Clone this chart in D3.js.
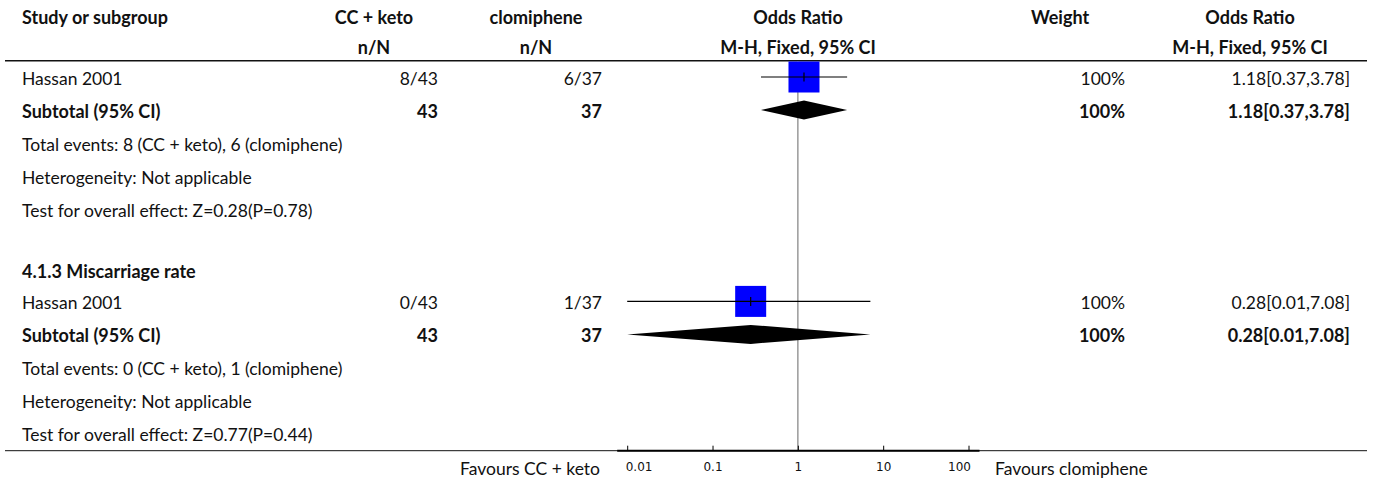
<!DOCTYPE html>
<html lang="en">
<head>
<meta charset="utf-8">
<title>Forest plot</title>
<script src="https://cdn.jsdelivr.net/npm/d3@7"></script>
<style>
  body { margin: 0; background: #fff; }
  svg text { font-family: Lato, "Noto Sans", sans-serif; font-size: 17.5px; fill: #111; }
  .b { font-weight: 700; font-size: 18px; }
  .axis text { font-family: "DejaVu Sans", sans-serif; font-size: 12px; }
</style>
</head>
<body>
<script>
// data
var studies = ["Hassan 2001", "Hassan 2001"];
var headings = [null, "4.1.3 Miscarriage rate"];
var ccKetoEvents = [8, 0];
var ccKetoTotal = [43, 43];
var clomEvents = [6, 1];
var clomTotal = [37, 37];
var oddsRatio = [1.18, 0.28];
var ciLow = [0.37, 0.01];
var ciHigh = [3.78, 7.08];
var weights = [100, 100];
var zValues = ["0.28", "0.77"];
var pValues = ["0.78", "0.44"];
var axisTicks = [0.01, 0.1, 1, 10, 100];

var w = 1375, h = 482;
var f2 = d3.format(".2f");

var svg = d3.select("body").append("svg")
  .attr("width", w).attr("height", h);

// column positions
var col = { study: 22, ccHead: 374, ccRight: 438, clHead: 536, clRight: 602,
            plotHead: 798, wHead: 1060, wRight: 1125, orHead: 1250, orRight: 1350 };

var x = d3.scaleLog().domain([0.01, 100]).range([627.2, 968.5]);
var rowY = d3.scaleLinear().domain([0, 1]).range([77, 110]);

// header
var hdr = svg.append("g");
[["Study or subgroup", col.study, "start"], ["CC + keto", col.ccHead, "middle"],
 ["clomiphene", col.clHead, "middle"], ["Odds Ratio", col.plotHead, "middle"],
 ["Weight", col.wHead, "middle"], ["Odds Ratio", col.orHead, "middle"]]
  .forEach(function(d) {
    hdr.append("text").attr("class", "b").attr("x", d[1]).attr("y", 24).attr("text-anchor", d[2]).text(d[0]);
  });
[["n/N", col.ccHead], ["n/N", col.clHead], ["M-H, Fixed, 95% CI", col.plotHead],
 ["M-H, Fixed, 95% CI", col.orHead]].forEach(function(d) {
    hdr.append("text").attr("class", "b").attr("x", d[1]).attr("y", 54).attr("text-anchor", "middle").text(d[0]);
  });

svg.append("line").attr("x1", 5).attr("x2", 1367).attr("y1", 60.7).attr("y2", 60.7)
  .attr("stroke", "#111").attr("stroke-width", 1.5);

// line of no effect
svg.append("line").attr("x1", x(1)).attr("x2", x(1)).attr("y1", 61).attr("y2", 450)
  .attr("stroke", "#999").attr("stroke-width", 1.5);

// build rows
var rows = [];
var slot = 0;
studies.forEach(function(s, i) {
  if (headings[i]) { rows.push({ slot: slot, type: "heading", text: headings[i] }); slot += 1; }
  rows.push({ slot: slot, type: "study", i: i }); slot += 1;
  rows.push({ slot: slot, type: "subtotal", i: i }); slot += 1;
  rows.push({ slot: slot, type: "note", text: "Total events: " + ccKetoEvents[i] + " (CC + keto), " + clomEvents[i] + " (clomiphene)" }); slot += 1;
  rows.push({ slot: slot, type: "note", text: "Heterogeneity: Not applicable" }); slot += 1;
  rows.push({ slot: slot, type: "note", text: "Test for overall effect: Z=" + zValues[i] + "(P=" + pValues[i] + ")" }); slot += 1;
  slot += 0.8;
});

function txt(g, xx, yy, anchor, t, bold) {
  g.append("text").attr("x", xx).attr("y", yy + 7.5).attr("text-anchor", anchor)
    .attr("class", bold ? "b" : null).text(t);
}

rows.forEach(function(r) {
  var y = rowY(r.slot);
  var g = svg.append("g");
  if (r.type === "heading") { txt(g, col.study, y + 2, "start", r.text, true); return; }
  if (r.type === "note") { txt(g, col.study, y, "start", r.text, false); return; }
  var i = r.i;
  var sub = r.type === "subtotal";
  var ciText = f2(oddsRatio[i]) + "[" + f2(ciLow[i]) + "," + f2(ciHigh[i]) + "]";
  txt(g, col.study, y, "start", sub ? "Subtotal (95% CI)" : studies[i], sub);
  txt(g, col.ccRight, y, "end", sub ? ccKetoTotal[i] : ccKetoEvents[i] + "/" + ccKetoTotal[i], sub);
  txt(g, col.clRight, y, "end", sub ? clomTotal[i] : clomEvents[i] + "/" + clomTotal[i], sub);
  txt(g, col.wRight, y, "end", weights[i] + "%", sub);
  txt(g, col.orRight, y, "end", ciText, sub);

  if (sub) {
    var pts = [[x(ciLow[i]), y], [x(oddsRatio[i]), y - 9.5], [x(ciHigh[i]), y], [x(oddsRatio[i]), y + 9.5]];
    g.append("path").attr("d", d3.line()(pts) + "Z").attr("fill", "#000");
  } else {
    var sz = 31;
    g.append("rect").attr("x", x(oddsRatio[i]) - sz / 2).attr("y", y - sz / 2)
      .attr("width", sz).attr("height", sz).attr("fill", "#0000ff");
    g.append("line").attr("x1", x(ciLow[i])).attr("x2", x(ciHigh[i]))
      .attr("y1", y).attr("y2", y).attr("stroke", "#000").attr("stroke-width", 1.2);
    g.append("line").attr("x1", x(oddsRatio[i])).attr("x2", x(oddsRatio[i]))
      .attr("y1", y - 4.5).attr("y2", y + 4.5).attr("stroke", "#000").attr("stroke-width", 1.2);
  }
});

// bottom axis
var axisY = 450.7;
svg.append("line").attr("x1", 5).attr("x2", 1367).attr("y1", axisY).attr("y2", axisY)
  .attr("stroke", "#111").attr("stroke-width", 1);
svg.append("line").attr("x1", x.range()[0] - 10).attr("x2", x.range()[1] + 11)
  .attr("y1", axisY).attr("y2", axisY).attr("stroke", "#000").attr("stroke-width", 2);

var xAxis = d3.axisBottom(x).tickValues(axisTicks)
  .tickFormat(function(d) { return String(d); })
  .tickSizeInner(-5).tickSizeOuter(0).tickPadding(12);
var ax = svg.append("g").attr("class", "axis")
  .attr("transform", "translate(0," + axisY + ")").call(xAxis);
ax.select(".domain").remove();
ax.selectAll("text").attr("fill", "#111")
  .attr("text-anchor", function(d, i) { return i === 0 ? "start" : (i === axisTicks.length - 1 ? "end" : "middle"); })
  .attr("dx", function(d, i) { return i === 0 ? -2 : (i === axisTicks.length - 1 ? 2 : 0); });

svg.append("text").attr("x", 600).attr("y", 475).attr("text-anchor", "end").text("Favours CC + keto");
svg.append("text").attr("x", 995).attr("y", 475).attr("text-anchor", "start").text("Favours clomiphene");
</script>
</body>
</html>
